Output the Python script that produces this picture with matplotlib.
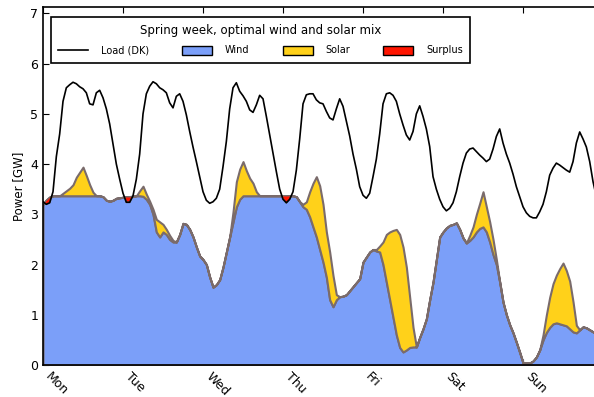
import numpy as np
import matplotlib
matplotlib.use('Agg')
import matplotlib.pyplot as plt
from matplotlib.patches import Patch
from matplotlib.lines import Line2D

days = ['Mon', 'Tue', 'Wed', 'Thu', 'Fri', 'Sat', 'Sun']

# hourly values in GW, one row per day (Mon..Sun) plus the closing hour
load = [
    3.25, 3.20, 3.23, 3.45, 4.15, 4.60, 5.25, 5.52, 5.58, 5.63, 5.60, 5.54, 5.50, 5.42, 5.20, 5.18, 5.42, 5.47, 5.32, 5.10, 4.80, 4.40, 4.00, 3.70,
    3.42, 3.24, 3.24, 3.37, 3.70, 4.20, 5.00, 5.40, 5.55, 5.64, 5.60, 5.52, 5.48, 5.42, 5.22, 5.12, 5.35, 5.40, 5.25, 4.98, 4.65, 4.34, 4.05, 3.75,
    3.45, 3.28, 3.22, 3.25, 3.32, 3.50, 3.95, 4.45, 5.10, 5.52, 5.62, 5.45, 5.36, 5.25, 5.08, 5.03, 5.18, 5.37, 5.30, 4.95, 4.58, 4.20, 3.85, 3.50,
    3.30, 3.23, 3.30, 3.45, 3.88, 4.50, 5.20, 5.38, 5.40, 5.40, 5.28, 5.22, 5.20, 5.05, 4.92, 4.88, 5.10, 5.30, 5.15, 4.85, 4.56, 4.20, 3.90, 3.55,
    3.38, 3.32, 3.42, 3.75, 4.10, 4.60, 5.20, 5.40, 5.42, 5.37, 5.25, 5.00, 4.78, 4.58, 4.48, 4.65, 5.00, 5.16, 4.95, 4.70, 4.35, 3.75, 3.50, 3.30,
    3.15, 3.07, 3.12, 3.23, 3.45, 3.75, 4.02, 4.22, 4.30, 4.32, 4.25, 4.18, 4.12, 4.05, 4.10, 4.30, 4.55, 4.70, 4.42, 4.20, 4.02, 3.80, 3.55, 3.35,
    3.15, 3.03, 2.96, 2.93, 2.93, 3.05, 3.20, 3.45, 3.78, 3.92, 4.02, 3.98, 3.93, 3.88, 3.84, 4.05, 4.42, 4.64, 4.50, 4.34, 4.05, 3.65, 3.35, 3.15,
    3.05,
]
wind = [
    3.20, 3.28, 3.34, 3.37, 3.37, 3.37, 3.37, 3.37, 3.37, 3.37, 3.37, 3.37, 3.37, 3.37, 3.37, 3.37, 3.37, 3.37, 3.35, 3.28, 3.26, 3.28, 3.32, 3.33,
    3.34, 3.35, 3.35, 3.36, 3.37, 3.37, 3.36, 3.30, 3.20, 3.00, 2.65, 2.55, 2.65, 2.60, 2.50, 2.45, 2.45, 2.60, 2.82, 2.80, 2.70, 2.55, 2.35, 2.17,
    2.10, 2.00, 1.75, 1.55, 1.60, 1.70, 1.95, 2.25, 2.55, 2.85, 3.15, 3.30, 3.37, 3.37, 3.37, 3.37, 3.37, 3.37, 3.37, 3.37, 3.37, 3.37, 3.37, 3.37,
    3.37, 3.37, 3.37, 3.37, 3.35, 3.25, 3.15, 3.10, 2.95, 2.75, 2.55, 2.30, 2.05, 1.75, 1.30, 1.16, 1.30, 1.36, 1.37, 1.40, 1.48, 1.56, 1.64, 1.72,
    2.05, 2.15, 2.25, 2.30, 2.27, 2.25, 2.00, 1.65, 1.30, 0.95, 0.60, 0.35, 0.26, 0.30, 0.35, 0.36, 0.36, 0.55, 0.72, 0.92, 1.30, 1.65, 2.10, 2.55,
    2.65, 2.73, 2.78, 2.80, 2.83, 2.70, 2.53, 2.43, 2.48, 2.55, 2.65, 2.72, 2.75, 2.65, 2.45, 2.20, 2.00, 1.65, 1.25, 1.00, 0.80, 0.64, 0.45, 0.25,
    0.04, 0.04, 0.04, 0.08, 0.16, 0.30, 0.50, 0.65, 0.75, 0.82, 0.84, 0.82, 0.80, 0.78, 0.72, 0.66, 0.64, 0.70, 0.76, 0.74, 0.70, 0.66, 0.62, 0.60,
    0.60,
]
solar = [
    0, 0, 0, 0, 0, 0, 0.05, 0.10, 0.15, 0.22, 0.37, 0.47, 0.57, 0.40, 0.22, 0.07, 0, 0, 0, 0, 0, 0, 0, 0,
    0, 0, 0, 0, 0, 0.10, 0.20, 0.10, 0.06, 0.10, 0.25, 0.30, 0.15, 0.10, 0.08, 0.03, 0, 0, 0, 0, 0, 0, 0, 0,
    0, 0, 0, 0, 0, 0, 0, 0, 0, 0.20, 0.50, 0.60, 0.68, 0.50, 0.35, 0.25, 0.08, 0, 0, 0, 0, 0, 0, 0,
    0, 0, 0, 0, 0, 0, 0.05, 0.15, 0.50, 0.87, 1.20, 1.27, 1.15, 0.90, 0.95, 0.62, 0.10, 0, 0, 0, 0, 0, 0, 0,
    0, 0, 0, 0, 0.03, 0.12, 0.45, 0.95, 1.35, 1.73, 2.10, 2.25, 2.09, 1.65, 1.00, 0.39, 0, 0, 0, 0, 0, 0, 0, 0,
    0, 0, 0, 0, 0, 0, 0, 0, 0.10, 0.20, 0.35, 0.50, 0.70, 0.50, 0.40, 0.30, 0.10, 0, 0, 0, 0, 0, 0, 0,
    0, 0, 0, 0, 0, 0, 0.10, 0.35, 0.60, 0.80, 0.95, 1.10, 1.23, 1.10, 0.95, 0.60, 0.15, 0, 0, 0, 0, 0, 0, 0,
    0,
]

load = np.array(load)
wind = np.array(wind)
solar = np.array(solar)
hours = np.arange(len(load))
supply = wind + solar

c_wind = '#7b9ff9'
c_solar = '#ffd11a'
c_surplus = '#ff1500'
edge = '#7a6b6b'

fig = plt.figure(figsize=(5.94, 3.97), dpi=100)
ax = fig.add_axes([0.0724, 0.0806, 0.9428, 0.902])

ax.fill_between(hours, 0, wind, facecolor=c_wind, edgecolor=edge, lw=1.5, zorder=2)
ax.fill_between(hours, wind, supply, facecolor=c_solar, edgecolor=edge, lw=1.5, zorder=2)
ax.fill_between(hours, load, supply, where=supply > load, interpolate=True,
                facecolor=c_surplus, edgecolor=edge, lw=1.0, zorder=3)
ax.plot(hours, load, color='k', lw=1.2, zorder=4)

ax.set_xlim(0, 168)
ax.set_ylim(0, 7.13)
ax.set_xticks(np.arange(0, 168, 24))
ax.set_xticklabels(days, rotation=-45, ha='left')
ax.set_yticks(range(8))
ax.tick_params(direction='in', top=True, right=True, length=4, labelsize=9, colors='k')
ax.set_ylabel('Power [GW]', fontsize=8.5)
for s in ax.spines.values():
    s.set_linewidth(1.2)

handles = [
    Line2D([], [], color='k', lw=1.2),
    Patch(facecolor=c_wind, edgecolor='k'),
    Patch(facecolor=c_solar, edgecolor='k'),
    Patch(facecolor=c_surplus, edgecolor='k'),
]
leg = ax.legend(handles, ['Load (DK)', 'Wind', 'Solar', 'Surplus'],
                title='Spring week, optimal wind and solar mix', ncol=4,
                loc='upper left', bbox_to_anchor=(0.0143, 0.972), borderaxespad=0,
                fontsize=7, title_fontsize=8.5, fancybox=False, framealpha=1,
                edgecolor='k', handlelength=3.1, handleheight=1.0,
                handletextpad=1.3, columnspacing=3.4, borderpad=0.75,
                labelspacing=0.85)
leg.get_frame().set_linewidth(1.2)
leg.set_zorder(5)

fig.savefig('out.png', dpi=100)
